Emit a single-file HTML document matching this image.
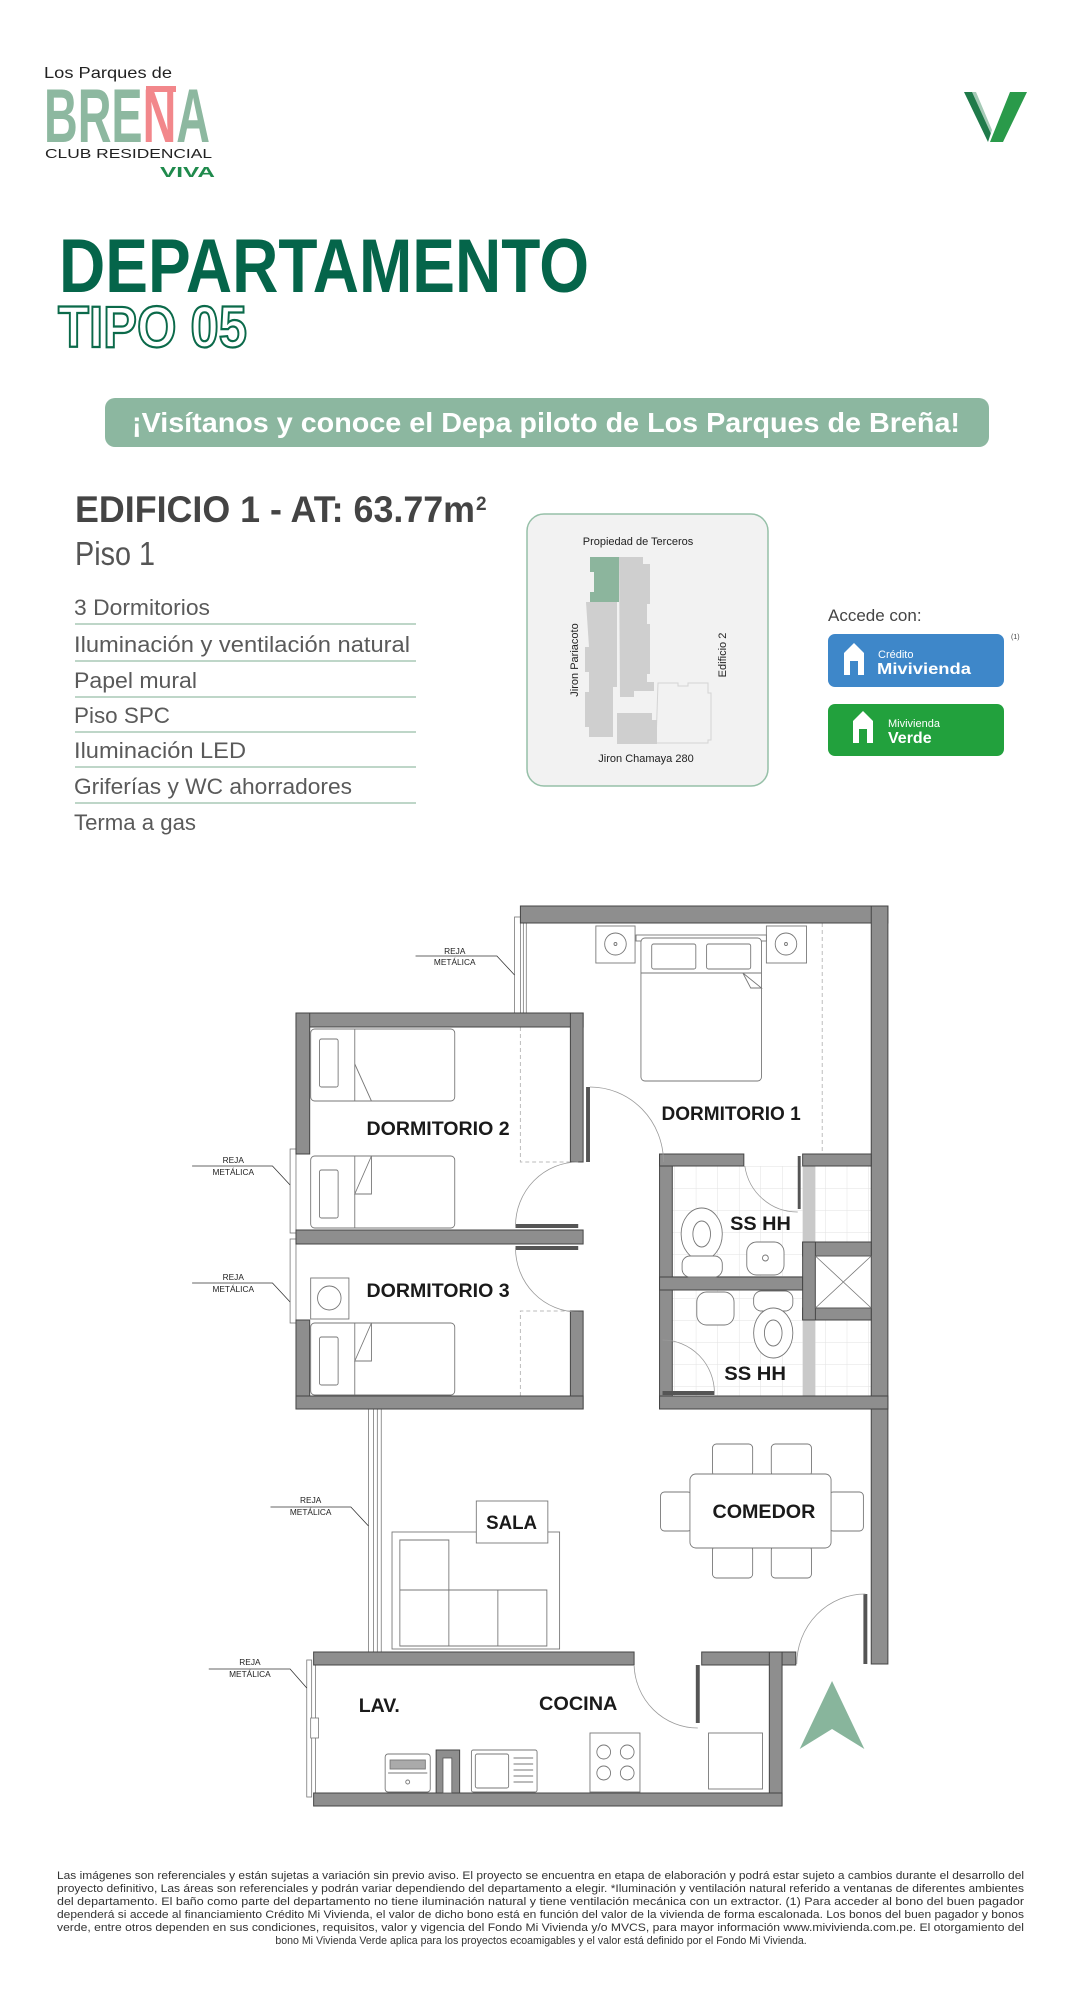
<!DOCTYPE html>
<html><head><meta charset="utf-8"><style>
html,body{margin:0;padding:0;background:#fff;width:1081px;height:2001px;overflow:hidden}
svg{display:block}
text{font-family:"Liberation Sans",sans-serif}
</style></head><body>
<svg width="1081" height="2001" viewBox="0 0 1081 2001" xmlns="http://www.w3.org/2000/svg">
<defs>
<pattern id="tile" width="22" height="22" patternUnits="userSpaceOnUse"><rect width="22" height="22" fill="#fff"/><path d="M0 0H22M0 0V22" stroke="#e2e2e2" stroke-width="1"/></pattern>
</defs>
<!-- Logo -->
<text x="44" y="78" font-size="16" fill="#222" textLength="128" lengthAdjust="spacingAndGlyphs">Los Parques de</text>
<text x="44" y="142" font-size="76" font-weight="bold" fill="#8db8a0" textLength="166" lengthAdjust="spacingAndGlyphs">BRE<tspan fill="#f2878b">N</tspan>A</text>
<rect x="146" y="86" width="30" height="6" fill="#f2878b"/>
<text x="45" y="158" font-size="13" fill="#222" textLength="167" lengthAdjust="spacingAndGlyphs">CLUB RESIDENCIAL</text>
<text x="160" y="177" font-size="15" font-weight="bold" fill="#1f8a4c" textLength="55" lengthAdjust="spacingAndGlyphs">VIVA</text>
<!-- V logo -->
<polygon points="964,92 976,92 992,130 988,142" fill="#1f7a4a"/>
<polygon points="972,92 980,92 996,128 992,136" fill="#fff" opacity="0.6"/>
<polygon points="1010,92 1027,92 1003,142 990,142" fill="#2a9a4a"/>
<!-- Title -->
<text x="59" y="292" font-size="76" font-weight="bold" fill="#05654a" textLength="530" lengthAdjust="spacingAndGlyphs">DEPARTAMENTO</text>
<text x="58" y="347" font-size="58" font-weight="bold" fill="#fff" stroke="#0b6a4a" stroke-width="2.2" textLength="189" lengthAdjust="spacingAndGlyphs">TIPO 05</text>
<!-- banner -->
<rect x="105" y="398" width="884" height="49" rx="10" fill="#8cb7a0"/>
<text x="132" y="432" font-size="28" font-weight="bold" fill="#fff" textLength="828" lengthAdjust="spacingAndGlyphs">¡Visítanos y conoce el Depa piloto de Los Parques de Breña!</text>
<!-- Edificio -->
<text x="75" y="522" font-size="37" font-weight="bold" fill="#444" textLength="400" lengthAdjust="spacingAndGlyphs">EDIFICIO 1 - AT: 63.77m</text>
<text x="476" y="510" font-size="19" font-weight="bold" fill="#444">2</text>
<text x="75" y="565" font-size="33" fill="#555" textLength="80" lengthAdjust="spacingAndGlyphs">Piso 1</text>
<g font-size="22" fill="#5a5a5a">
<text x="74" y="615" textLength="136" lengthAdjust="spacingAndGlyphs">3 Dormitorios</text>
<text x="74" y="652" textLength="336" lengthAdjust="spacingAndGlyphs">Iluminación y ventilación natural</text>
<text x="74" y="688" textLength="123" lengthAdjust="spacingAndGlyphs">Papel mural</text>
<text x="74" y="723" textLength="96" lengthAdjust="spacingAndGlyphs">Piso SPC</text>
<text x="74" y="758" textLength="172" lengthAdjust="spacingAndGlyphs">Iluminación LED</text>
<text x="74" y="794" textLength="278" lengthAdjust="spacingAndGlyphs">Griferías y WC ahorradores</text>
<text x="74" y="830" textLength="122" lengthAdjust="spacingAndGlyphs">Terma a gas</text>
</g>
<g stroke="#a9c8b6" stroke-width="1.6">
<line x1="75" y1="624" x2="416" y2="624"/><line x1="75" y1="661" x2="416" y2="661"/><line x1="75" y1="697" x2="416" y2="697"/><line x1="75" y1="732" x2="416" y2="732"/><line x1="75" y1="767" x2="416" y2="767"/><line x1="75" y1="803" x2="416" y2="803"/>
</g>
<!-- mini map -->
<rect x="527" y="514" width="241" height="272" rx="17" fill="#f2f2f2" stroke="#96c0a8" stroke-width="1.5"/>
<text x="638" y="545" font-size="11" fill="#222" text-anchor="middle">Propiedad de Terceros</text>
<path d="M658,683 h20 v3 h10 v-3 h20 v10 h3 v47 h-3 v3 h-52z" fill="#f2f2f2" stroke="#d4d4d4"/>
<path d="M619,557 h24 v7 h7 v40 h-3 v20 h3 v50 h-3 v8 h7 v9 h-20 v6 h-14 z" fill="#cfcfcf"/>
<path d="M586,602 h31 v85 h-4 v50 h-24 v-10 h-4 v-35 h4 v-20 h-4 v-25 h4 z" fill="#cfcfcf"/>
<path d="M617,713 h35 v7 h5 v24 h-40 z" fill="#cfcfcf"/>
<path d="M590,557 h29 v45 h-29 v-10 h4 v-20 h-4 z" fill="#8cb59d"/>
<text transform="translate(578,660) rotate(-90)" font-size="11" fill="#222" text-anchor="middle">Jiron Pariacoto</text>
<text transform="translate(726,655) rotate(-90)" font-size="11" fill="#222" text-anchor="middle">Edificio 2</text>
<text x="646" y="762" font-size="11" fill="#222" text-anchor="middle">Jiron Chamaya 280</text>
<!-- Accede -->
<g transform="translate(-10,0)">
<text x="838" y="621" font-size="17" fill="#444">Accede con:</text>
<rect x="838" y="634" width="176" height="53" rx="7" fill="#3e87c9"/>
<text x="1021" y="639" font-size="7" fill="#444">(1)</text>
<path d="M854,675 v-22 l10,-10 l10,10 v22z" fill="#fff"/><path d="M860,675 v-14 h8 v14" fill="#3e87c9"/>
<text x="888" y="658" font-size="11" fill="#fff">Crédito</text>
<text x="887" y="674" font-size="16" font-weight="bold" fill="#fff" textLength="94" lengthAdjust="spacingAndGlyphs">Mivivienda</text>
<rect x="838" y="704" width="176" height="52" rx="7" fill="#22a13d"/>
<path d="M863,743 v-22 l10,-10 l10,10 v22z" fill="#fff"/><path d="M869,743 v-14 h8 v14" fill="#22a13d"/>
<text x="898" y="727" font-size="11" fill="#fff">Mivivienda</text>
<text x="898" y="743" font-size="16" font-weight="bold" fill="#fff">Verde</text>
</g>

<!-- FLOOR PLAN -->
<g transform="translate(5.9,0) scale(0.98,1)">
<rect x="680" y="1166" width="133" height="111" fill="url(#tile)"/>
<rect x="680" y="1290" width="133" height="106" fill="url(#tile)"/>
<rect x="826" y="1166" width="57" height="76" fill="url(#tile)"/>
<rect x="826" y="1320" width="57" height="76" fill="url(#tile)"/>
<rect x="813" y="1166" width="13" height="230" fill="#c9c9c9"/>
<g stroke="#bbb" stroke-dasharray="4,3" fill="none" stroke-width="1">
<path d="M525,1027 V1162 H576"/><path d="M525,1396 V1311 H576"/><path d="M833,923 V1154"/>
</g>
<g fill="#fff" stroke="#777" stroke-width="0.8">
<rect x="519" y="917" width="6" height="96"/><line x1="528" y1="917" x2="528" y2="1013"/><line x1="531" y1="917" x2="531" y2="1013"/>
<rect x="290" y="1149" width="6" height="84"/><rect x="290" y="1239" width="6" height="84"/>
<rect x="370" y="1409" width="5" height="243"/><line x1="379" y1="1409" x2="379" y2="1652"/><line x1="383" y1="1409" x2="383" y2="1652"/>
<rect x="307" y="1660" width="5" height="137"/><line x1="316" y1="1665" x2="316" y2="1793"/>
<rect x="311" y="1718" width="8" height="20"/>
</g>
<g fill="#8e8e8e" stroke="#444" stroke-width="1">
<rect x="525" y="906" width="375" height="17"/>
<rect x="883" y="906" width="17" height="758"/>
<rect x="296" y="1013" width="293" height="14"/>
<rect x="296" y="1013" width="14" height="141"/>
<rect x="576" y="1013" width="13" height="149"/>
<rect x="296" y="1230" width="293" height="14"/>
<rect x="296" y="1320" width="14" height="89"/>
<rect x="576" y="1311" width="13" height="98"/>
<rect x="296" y="1396" width="293" height="13"/>
<rect x="667" y="1154" width="13" height="255"/>
<rect x="667" y="1154" width="86" height="12"/>
<rect x="813" y="1154" width="70" height="12"/>
<rect x="667" y="1277" width="146" height="13"/>
<rect x="813" y="1242" width="70" height="14"/>
<rect x="813" y="1308" width="70" height="12"/>
<rect x="813" y="1242" width="13" height="78"/>
<rect x="667" y="1396" width="233" height="13"/>
<rect x="314" y="1652" width="327" height="13"/>
<rect x="710" y="1652" width="96" height="13"/>
<rect x="779" y="1652" width="13" height="154"/>
<rect x="314" y="1793" width="478" height="13"/>
<rect x="439" y="1750" width="24" height="43"/>
</g>
<rect x="446" y="1758" width="9" height="35" fill="#fff" stroke="#555" stroke-width="0.8"/>
<rect x="826" y="1256" width="57" height="52" fill="#fff" stroke="#555"/>
<path d="M826,1256 L883,1308 M883,1256 L826,1308" stroke="#777" stroke-width="0.8"/>
<g fill="#555"><rect x="592" y="1087" width="4" height="75"/><rect x="520" y="1224" width="64" height="4"/><rect x="520" y="1246" width="64" height="4"/><rect x="808" y="1156" width="3" height="53"/><rect x="670" y="1391" width="53" height="4"/><rect x="704" y="1665" width="4" height="58"/><rect x="875" y="1594" width="4" height="70"/></g>
<g fill="none" stroke="#999" stroke-width="0.8">
<path d="M596,1087 A75,75 0 0 1 671,1162"/>
<path d="M520,1226 A64,64 0 0 1 584,1162"/>
<path d="M520,1248 A64,64 0 0 0 584,1312"/>
<path d="M754,1166 A54,54 0 0 0 808,1212"/>
<path d="M723,1393 A53,53 0 0 0 670,1340"/>
<path d="M641,1665 A65,65 0 0 0 706,1728"/>
<path d="M877,1594 A70,70 0 0 0 807,1664"/>
</g>
<g fill="#fff" stroke="#777" stroke-width="0.9">
<rect x="602" y="926" width="40" height="37"/><circle cx="622" cy="944" r="11"/><circle cx="622" cy="944" r="1.5"/>
<rect x="776" y="926" width="41" height="37"/><circle cx="796" cy="944" r="11"/><circle cx="796" cy="944" r="1.5"/>
<rect x="643" y="935" width="133" height="6"/>
<rect x="648" y="938" width="123" height="143" rx="4"/>
<rect x="659" y="944" width="45" height="25" rx="2"/><rect x="715" y="944" width="45" height="25" rx="2"/>
<line x1="648" y1="973" x2="771" y2="973"/><path d="M752,973 L771,988 L760,988z"/>
<rect x="311" y="1029" width="147" height="72" rx="4"/><rect x="320" y="1039" width="19" height="48" rx="2"/><line x1="356" y1="1029" x2="356" y2="1101"/><path d="M356,1064 L373,1101"/>
<rect x="311" y="1156" width="147" height="72" rx="4"/><rect x="320" y="1170" width="19" height="48" rx="2"/><line x1="356" y1="1156" x2="356" y2="1228"/><path d="M356,1194 L373,1156 L373,1194z"/>
<rect x="311" y="1323" width="147" height="72" rx="4"/><rect x="320" y="1337" width="19" height="48" rx="2"/><line x1="356" y1="1323" x2="356" y2="1395"/><path d="M356,1361 L373,1323 L373,1361z"/>
<rect x="311" y="1278" width="39" height="41"/><circle cx="330" cy="1298" r="12"/>
<ellipse cx="710" cy="1234" rx="21" ry="26"/><ellipse cx="710" cy="1234" rx="9" ry="13"/><rect x="690" y="1256" width="41" height="21" rx="8"/>
<rect x="756" y="1242" width="38" height="33" rx="10"/><circle cx="775" cy="1258" r="3"/>
<rect x="705" y="1292" width="38" height="33" rx="10"/>
<rect x="763" y="1291" width="40" height="20" rx="8"/><ellipse cx="783" cy="1333" rx="20" ry="25"/><ellipse cx="783" cy="1333" rx="9" ry="13"/>
<rect x="394" y="1532" width="171" height="117"/>
<path d="M402,1540 h50 v50 h-50z M402,1590 h50 v56 h-50z M452,1590 h50 v56 h-50z M502,1590 h50 v56 h-50z"/>
<rect x="480" y="1501" width="73" height="42"/>
<rect x="721" y="1444" width="41" height="32" rx="4"/><rect x="781" y="1444" width="41" height="32" rx="4"/>
<rect x="721" y="1546" width="41" height="32" rx="4"/><rect x="781" y="1546" width="41" height="32" rx="4"/>
<rect x="668" y="1492" width="32" height="39" rx="4"/><rect x="840" y="1492" width="35" height="39" rx="4"/>
<rect x="698" y="1474" width="144" height="74" rx="6"/>
<rect x="387" y="1754" width="46" height="38" rx="3"/><rect x="392" y="1760" width="36" height="9" fill="#aaa"/><line x1="390" y1="1773" x2="430" y2="1773"/><circle cx="410" cy="1782" r="2"/>
<rect x="475" y="1750" width="67" height="42" rx="2"/><rect x="479" y="1754" width="34" height="34" rx="2"/>
<path d="M518,1758h20M518,1764h20M518,1770h20M518,1776h20M518,1782h20"/>
<rect x="596" y="1733" width="51" height="59"/><circle cx="610" cy="1752" r="7"/><circle cx="634" cy="1752" r="7"/><circle cx="610" cy="1773" r="7"/><circle cx="634" cy="1773" r="7"/>
<rect x="717" y="1733" width="55" height="56"/>
</g>
<polygon points="843,1681 876,1749 843,1729 810,1749" fill="#88b59c"/>
<g font-size="19" font-weight="bold" fill="#1a1a1a">
<text x="368" y="1135" textLength="146" lengthAdjust="spacingAndGlyphs">DORMITORIO 2</text>
<text x="669" y="1120" textLength="142" lengthAdjust="spacingAndGlyphs">DORMITORIO 1</text>
<text x="368" y="1297" textLength="146" lengthAdjust="spacingAndGlyphs">DORMITORIO 3</text>
<text x="739" y="1230" textLength="62" lengthAdjust="spacingAndGlyphs">SS HH</text>
<text x="733" y="1380" textLength="63" lengthAdjust="spacingAndGlyphs">SS HH</text>
<text x="490" y="1529" textLength="52" lengthAdjust="spacingAndGlyphs">SALA</text>
<text x="721" y="1518" textLength="105" lengthAdjust="spacingAndGlyphs">COMEDOR</text>
<text x="360" y="1712" textLength="42" lengthAdjust="spacingAndGlyphs">LAV.</text>
<text x="544" y="1710" textLength="80" lengthAdjust="spacingAndGlyphs">COCINA</text>
</g>
<g font-size="8.5" fill="#222" text-anchor="middle">
<text x="458" y="954">REJA</text><text x="458" y="965">METÁLICA</text>
<text x="232" y="1163">REJA</text><text x="232" y="1175">METÁLICA</text>
<text x="232" y="1280">REJA</text><text x="232" y="1292">METÁLICA</text>
<text x="311" y="1503">REJA</text><text x="311" y="1515">METÁLICA</text>
<text x="249" y="1665">REJA</text><text x="249" y="1677">METÁLICA</text>
</g>
<g stroke="#333" stroke-width="0.8" fill="none">
<path d="M418,956 H501 L519,975"/>
<path d="M190,1166 H272 L290,1185"/>
<path d="M190,1283 H272 L290,1302"/>
<path d="M270,1507 H352 L370,1526"/>
<path d="M207,1669 H290 L307,1688"/>
</g>
</g>
<!-- disclaimer -->
<g font-size="10.6" fill="#333">
<text x="57" y="1879" textLength="967" lengthAdjust="spacingAndGlyphs">Las imágenes son referenciales y están sujetas a variación sin previo aviso. El proyecto se encuentra en etapa de elaboración y podrá estar sujeto a cambios durante el desarrollo del</text>
<text x="57" y="1892" textLength="967" lengthAdjust="spacingAndGlyphs">proyecto definitivo, Las áreas son referenciales y podrán variar dependiendo del departamento a elegir. *Iluminación y ventilación natural referido a ventanas de diferentes ambientes</text>
<text x="57" y="1905" textLength="967" lengthAdjust="spacingAndGlyphs">del departamento. El baño como parte del departamento no tiene iluminación natural y tiene ventilación mecánica con un extractor. (1) Para acceder al bono del buen pagador</text>
<text x="57" y="1918" textLength="967" lengthAdjust="spacingAndGlyphs">dependerá si accede al financiamiento Crédito Mi Vivienda, el valor de dicho bono está en función del valor de la vivienda de forma escalonada. Los bonos del buen pagador y bonos</text>
<text x="57" y="1931" textLength="967" lengthAdjust="spacingAndGlyphs">verde, entre otros dependen en sus condiciones, requisitos, valor y vigencia del Fondo Mi Vivienda y/o MVCS, para mayor información www.mivivienda.com.pe. El otorgamiento del</text>
<text x="541" y="1944" text-anchor="middle">bono Mi Vivienda Verde aplica para los proyectos ecoamigables y el valor está definido por el Fondo Mi Vivienda.</text>
</g>
</svg>
</body></html>
